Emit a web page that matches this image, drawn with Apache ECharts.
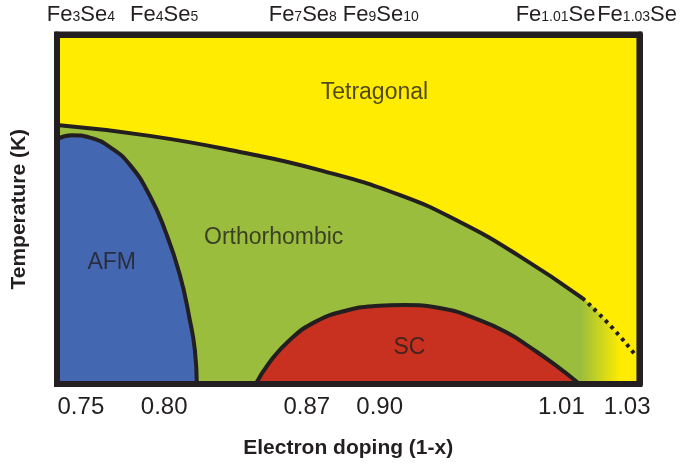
<!DOCTYPE html>
<html>
<head>
<meta charset="utf-8">
<script src="https://cdn.jsdelivr.net/npm/echarts@6/dist/echarts.min.js"></script>
<style>
  html, body { margin: 0; padding: 0; background: #fff; }
  #chart { width: 680px; height: 465px; }
</style>
</head>
<body>
<div id="chart"></div>
<script>
// x is position along the (non-linear) doping axis, 0..100 of the frame width
// y is temperature in arbitrary units, 0..100
var tickPos = [4.1, 18.4, 42.9, 55.4, 86.6, 97.9];
var tickLabels = ['0.75', '0.80', '0.87', '0.90', '1.01', '1.03'];
var formulaPos = [4.1, 18.4, 42.2, 55.6, 85.6, 99.6];
var formulas = [
    ['Fe', '3', 'Se', '4'],
    ['Fe', '4', 'Se', '5'],
    ['Fe', '7', 'Se', '8'],
    ['Fe', '9', 'Se', '10'],
    ['Fe', '1.01', 'Se', ''],
    ['Fe', '1.03', 'Se', '']
];

// structural (tetragonal -> orthorhombic) transition
var structSolid = [[0, 74.1], [15.95, 71.0], [31.4, 66.4], [45.1, 61.2], [58.8, 54.1],
    [69.1, 46.4], [79.4, 36.6], [90.2, 24.6]];
var structDotted = [[90.2, 24.6], [94.9, 16.9], [99.3, 8.3]];
// AFM dome
var afm = [[0, 70.1], [2.57, 71.2], [5.66, 70.5], [9.09, 67.8], [12.52, 62.7], [15.95, 53.8],
    [18.52, 44.1], [21.1, 31.2], [22.81, 18.3], [23.67, 9.7], [24.01, 0]];
// SC dome
var sc = [[34.13, 0], [36.54, 6.3], [39.97, 12.6], [44.25, 17.7], [49.4, 20.9], [54.55, 22.3],
    [59.69, 22.6], [65.69, 21.75], [72.56, 18.3], [77.7, 14.3], [81.13, 10.6], [85.42, 5.6], [89.71, 0]];

var phaseLabels = [
    {name: 'Tetragonal', value: [54.5, 83.5]},
    {name: 'Orthorhombic', value: [37.2, 41.8]},
    {name: 'AFM', value: [9.4, 34.6]},
    {name: 'SC', value: [60.5, 10.3]}
];

var dark = '#231f20';
var yellow = '#ffec00';
var green = '#9bbd3d';
var font = '"Liberation Sans", Arial, sans-serif';

var myChart = echarts.init(document.getElementById('chart'));

var frameLine = {show: true, onZero: false, lineStyle: {color: dark, width: 6}};

option = {
    animation: false,
    textStyle: {fontFamily: font},
    grid: {
        left: 57, right: 40, top: 34.5, bottom: 81,
        show: true,
        backgroundColor: yellow,
        borderColor: dark,
        borderWidth: 6
    },
    xAxis: [{
        type: 'value', position: 'bottom', min: 0, max: 100, z: 10,
        axisLine: frameLine,
        axisTick: {show: false},
        splitLine: {show: false},
        axisLabel: {
            customValues: tickPos,
            margin: 11,
            fontSize: 24,
            color: dark,
            fontFamily: font,
            formatter: function (v) {
                return tickLabels[tickPos.indexOf(v)];
            }
        },
        name: 'Electron doping (1-x)',
        nameLocation: 'middle',
        nameGap: 54,
        nameTextStyle: {fontSize: 21, fontWeight: 'bold', color: dark, fontFamily: font}
    }, {
        type: 'value', position: 'top', min: 0, max: 100, z: 10,
        axisLine: frameLine,
        axisTick: {show: false},
        splitLine: {show: false},
        axisLabel: {
            customValues: formulaPos,
            margin: 9,
            color: dark,
            formatter: function (v) {
                var f = formulas[formulaPos.indexOf(v)];
                var s = '{b|' + f[0] + '}{s|' + f[1] + '}{b|' + f[2] + '}';
                if (f[3]) s += '{s|' + f[3] + '}';
                return s;
            },
            rich: {
                b: {fontSize: 22, color: dark, fontFamily: font, verticalAlign: 'bottom', lineHeight: 24},
                s: {fontSize: 14, color: dark, fontFamily: font, verticalAlign: 'bottom', lineHeight: 24, padding: [0, 0, 1, 0]}
            }
        }
    }],
    yAxis: [{
        type: 'value', position: 'left', min: 0, max: 100, z: 10,
        axisLine: frameLine,
        axisTick: {show: false},
        axisLabel: {show: false},
        splitLine: {show: false},
        name: 'Temperature (K)',
        nameLocation: 'middle',
        nameGap: 27,
        nameTextStyle: {fontSize: 21, fontWeight: 'bold', color: dark, fontFamily: font}
    }, {
        type: 'value', position: 'right', min: 0, max: 100, z: 10,
        axisLine: frameLine,
        axisTick: {show: false},
        axisLabel: {show: false},
        splitLine: {show: false}
    }],
    series: [{
        // orthorhombic region, fading into tetragonal at high doping
        type: 'line',
        data: structSolid.concat(structDotted.slice(1)),
        smooth: true,
        showSymbol: false,
        lineStyle: {width: 0, opacity: 0},
        areaStyle: {
            opacity: 1,
            color: new echarts.graphic.LinearGradient(0, 0, 1, 0, [
                {offset: 0, color: green},
                {offset: 0.905, color: green},
                {offset: 0.975, color: yellow},
                {offset: 1, color: yellow}
            ])
        },
        silent: true
    }, {
        type: 'line',
        data: structSolid,
        smooth: true,
        showSymbol: false,
        lineStyle: {width: 4, color: dark},
        silent: true
    }, {
        type: 'line',
        data: structDotted,
        smooth: true,
        showSymbol: false,
        lineStyle: {width: 4, color: dark, type: [3.5, 4.5]},
        silent: true
    }, {
        type: 'line',
        data: afm,
        smooth: true,
        showSymbol: false,
        lineStyle: {width: 4, color: dark},
        areaStyle: {color: '#4467b1', opacity: 1},
        silent: true
    }, {
        type: 'line',
        data: sc,
        smooth: true,
        showSymbol: false,
        lineStyle: {width: 4, color: dark},
        areaStyle: {color: '#c8311f', opacity: 1},
        silent: true
    }, {
        type: 'scatter',
        z: 20,
        data: phaseLabels,
        symbolSize: 1,
        itemStyle: {color: 'rgba(0,0,0,0)'},
        label: {
            show: true,
            position: 'inside',
            formatter: '{b}',
            fontSize: 23,
            color: dark,
            fontFamily: font
        },
        labelLayout: {hideOverlap: false},
        silent: true
    }]
};
myChart.setOption(option);
</script>
</body>
</html>
